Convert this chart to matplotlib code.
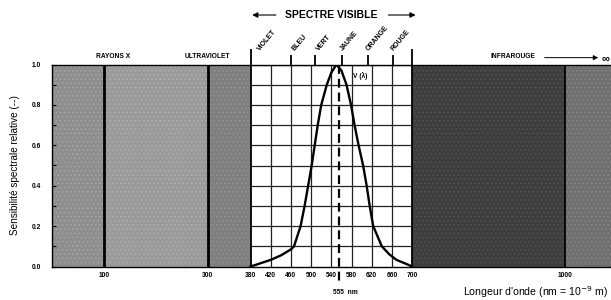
import numpy as np
import matplotlib
matplotlib.use("Agg")
import matplotlib.pyplot as plt

plt.rcParams['font.family'] = ['Liberation Sans', 'DejaVu Sans']

# ---------------- data ----------------
wavelength = [380, 390, 420, 440, 460, 466, 479, 487, 494, 501, 507, 513, 520, 531, 540,
              550, 560, 570, 579, 586, 594, 603, 610, 616, 623, 640, 655, 669, 693, 700]
v_lambda = [0.0, 0.008, 0.033, 0.055, 0.085, 0.10, 0.20, 0.30, 0.40, 0.50, 0.60, 0.70, 0.80, 0.90, 0.96,
            1.00, 0.97, 0.90, 0.80, 0.70, 0.60, 0.50, 0.40, 0.30, 0.20, 0.10, 0.06, 0.033, 0.008, 0.0]

x_ticks = [100, 300, 380, 420, 460, 500, 540, 580, 620, 660, 700, 1000]
x_ticklabels = ['100', '300', '380', '420', '460', '500', '540', '580', '620', '660', '700', '1000']
y_ticks = [0.0, 0.2, 0.4, 0.6, 0.8, 1.0]
y_ticklabels = ['0.0', '0.2', '0.4', '0.6', '0.8', '1.0']

regions = [(0, 100), (100, 300), (300, 380), (700, 1000), (1000, 1090)]
region_names = ['RAYONS X', 'ULTRAVIOLET', 'INFRAROUGE']
band_edges = [380, 460, 508, 562, 613, 663, 700]
band_names = ['VIOLET', 'BLEU', 'VERT', 'JAUNE', 'ORANGE', 'ROUGE']
grid_x = [420, 460, 500, 540, 580, 620, 660]
grid_y = [0.1, 0.2, 0.3, 0.4, 0.5, 0.6, 0.7, 0.8, 0.9, 1.0]
peak_nm = 555

# layout: anchor of each band name (nm)
band_label_at = [402, 470, 519, 566, 617, 667]

# ---------------- scale (schematic axis) ----------------
nm_anchor = np.array([0, 100, 300, 380, 700, 1000, 1090], dtype=float)
px_anchor = np.array([51, 103, 207, 250, 411.7, 565, 611], dtype=float)

def fwd(x):
    return np.interp(x, nm_anchor, px_anchor)

def inv(u):
    return np.interp(u, px_anchor, nm_anchor)

fig = plt.figure(figsize=(6.11, 3.0), dpi=100)
ax = fig.add_axes([52 / 611, 33.5 / 300, 559 / 611, 202 / 300])
ax.set_xscale('function', functions=(fwd, inv))
ax.set_xlim(0, 1090)
ax.set_ylim(0, 1)

# shaded regions
region_colors = ['#8e8e8e', '#9a9a9a', '#7f7f7f', '#3e3e3e', '#707070']
hatch_colors = ['#a8a8a8', '#b0b0b0', '#959595', '#555555', '#878787']
plt.rcParams['hatch.linewidth'] = 0.6
for (a, b), fc, hc in zip(regions, region_colors, hatch_colors):
    ax.axvspan(a, b, facecolor=fc, edgecolor=hc, hatch='....', lw=0, zorder=0)

# heavy separators
for xv, lw in [(100, 2.0), (300, 2.0), (380, 1.3), (700, 1.3), (1000, 1.3)]:
    ax.axvline(xv, color='black', lw=lw, zorder=3)

# grid in visible band
ax.vlines(grid_x, 0, 1, color='#222222', lw=0.9, zorder=1)
ax.hlines(grid_y, 380, 700, color='#222222', lw=0.9, zorder=1)

# curve
ax.plot(wavelength, v_lambda, color='black', lw=1.7, zorder=4, solid_joinstyle='round')

# dashed line at 555 nm
ax.plot([peak_nm, peak_nm], [1.0, -0.085], color='black', lw=1.6,
        dashes=(4, 2.2), clip_on=False, zorder=5)
ax.text(544, -0.13, '555  nm', fontsize=4.8, fontweight='bold', ha='left', va='center',
        clip_on=False)
ax.text(582, 0.945, 'V (λ)', fontsize=4.8, fontweight='bold', ha='left', va='center')

# ticks
ax.set_xticks(x_ticks)
ax.set_xticklabels(x_ticklabels, fontsize=4.8, fontweight='bold')
ax.tick_params(axis='x', length=0, pad=4)
ax.set_yticks(y_ticks)
ax.set_yticklabels(y_ticklabels, fontsize=4.8, fontweight='bold')
ax.set_yticks(np.arange(0.1, 1.0, 0.2), minor=True)
ax.tick_params(axis='y', which='both', direction='in', length=3, width=0.8, pad=8)

for s in ['left', 'bottom', 'top']:
    ax.spines[s].set_linewidth(1.0)
ax.spines['right'].set_visible(False)

ax.set_ylabel('Sensibilité spectrale relative (--)', fontsize=7.2, labelpad=8)
fig.text(0.995, 0.026, "Longeur d'onde (nm = 10$^{-9}$ m)", fontsize=7.6,
         ha='right', va='center')

# region names above plot
ax.text(117, 1.022, region_names[0], fontsize=4.8, fontweight='bold', ha='center', va='bottom',
        clip_on=False)
ax.text(300, 1.022, region_names[1], fontsize=4.8, fontweight='bold', ha='center', va='bottom',
        clip_on=False)
ax.text(898, 1.022, region_names[2], fontsize=4.8, fontweight='bold', ha='center', va='bottom',
        clip_on=False)
ax.annotate('', xy=(1065, 1.034), xytext=(960, 1.034), annotation_clip=False,
            arrowprops=dict(arrowstyle='-|>', color='black', lw=0.7,
                            mutation_scale=7, shrinkA=0, shrinkB=0))
ax.text(1071, 1.034, '∞', fontsize=8, fontweight='bold', ha='left', va='center', clip_on=False)

# colour band marks and names
ax.vlines(band_edges[1:-1], 1.0, 1.045, color='black', lw=1.3, clip_on=False)
ax.vlines([band_edges[0], band_edges[-1]], 1.0, 1.075, color='black', lw=1.3, clip_on=False)
for xa, name in zip(band_label_at, band_names):
    ax.text(xa, 1.06, name, fontsize=5, fontweight='bold', rotation=50,
            rotation_mode='anchor', ha='left', va='bottom', clip_on=False)

# spectre visible header
ax.text(540, 1.245, 'SPECTRE VISIBLE', fontsize=7.5, fontweight='bold', ha='center',
        va='center', clip_on=False)
ax.annotate('', xy=(383, 1.245), xytext=(430, 1.245), annotation_clip=False,
            arrowprops=dict(arrowstyle='-|>', color='black', lw=0.8,
                            mutation_scale=8, shrinkA=0, shrinkB=0))
ax.annotate('', xy=(707, 1.245), xytext=(653, 1.245), annotation_clip=False,
            arrowprops=dict(arrowstyle='-|>', color='black', lw=0.8,
                            mutation_scale=8, shrinkA=0, shrinkB=0))

fig.savefig('out.png', dpi=100)
